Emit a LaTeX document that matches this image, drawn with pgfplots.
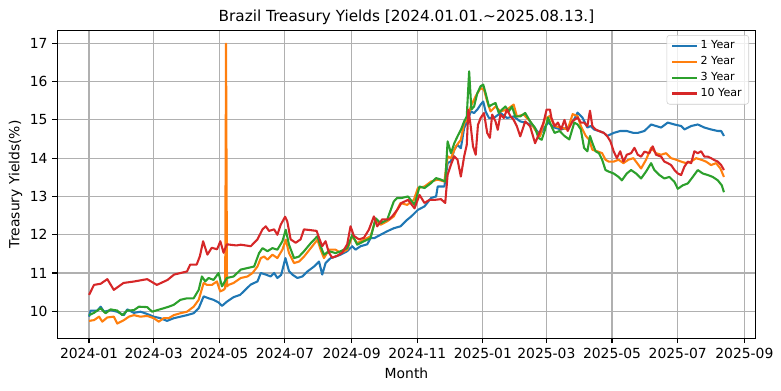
\documentclass[border=0pt]{standalone}
\usepackage{fontspec}
\setmainfont{DejaVu Sans}
\usepackage{pgfplots}
\pgfplotsset{compat=1.18}
\definecolor{c1}{HTML}{1F77B4}
\definecolor{c2}{HTML}{FF7F0E}
\definecolor{c3}{HTML}{2CA02C}
\definecolor{c4}{HTML}{D62728}
\definecolor{gridgray}{HTML}{B0B0B0}
\definecolor{legframe}{HTML}{CCCCCC}
\begin{document}
\begin{tikzpicture}
\begin{axis}[
  scale only axis, width=502.85pt, height=221.76pt,
  xmin=-29.5, xmax=619.5, ymin=9.295, ymax=17.34,
  xtick={0,60,121,182,244,305,366,425,486,547,609},
  xticklabels={2024-01,2024-03,2024-05,2024-07,2024-09,2024-11,2025-01,2025-03,2025-05,2025-07,2025-09},
  ytick={10,11,12,13,14,15,16,17},
  xtick pos=bottom, ytick pos=left,
  tick align=outside, major tick length=3.5pt,
  every tick/.style={black, line width=0.8pt},
  axis line style={line width=0.8pt},
  grid=major, major grid style={color=gridgray, line width=0.8pt},
  tick label style={font=\fontsize{10}{12}\selectfont},
  /pgf/number format/assume math mode=true,
  title={Brazil Treasury Yields [2024.01.01.\textasciitilde 2025.08.13.]},
  title style={font=\fontsize{11}{13}\selectfont, at={(axis description cs:0.5,1)}, anchor=base, yshift=0pt},
  xlabel={Month}, ylabel={Treasury Yields(\%)},
  label style={font=\fontsize{10}{12}\selectfont},
  xlabel style={at={(axis description cs:0.5,0)}, anchor=center, yshift=-25.2pt},
  ylabel style={at={(axis description cs:0,0.5)}, anchor=center, yshift=30.1pt},
  legend style={at={(axis description cs:0.9904,0.9847)}, anchor=north east,
    font=\fontsize{8}{9.6}\selectfont, draw=legframe, rounded corners=2pt, fill=white, fill opacity=0.8, text opacity=1,
    inner xsep=3pt, inner ysep=2pt, row sep=0pt},
  legend cell align=left,
  legend image code/.code={\draw[#1] (0pt,0pt) -- (17.8pt,0pt);},
  every axis plot/.append style={line width=1.5pt, line join=round},
]
\addplot[c1] coordinates {(0,9.86)(1.5,10.02)(7.7,10.02)(10.8,10.12)(13.9,9.99)(20,10.03)(26,9.99)(32.4,9.9)(35.5,10.05)(41.7,9.96)(47.8,9.99)(54,9.93)(60.2,9.86)(66.4,9.82)(72.5,9.75)(78.7,9.82)(84.9,9.86)(91,9.9)(97.2,9.95)(101.9,10.08)(106.5,10.39)(111.1,10.34)(115.7,10.3)(120.4,10.23)(123.5,10.14)(128,10.25)(134.3,10.37)(140.4,10.43)(146.6,10.6)(150.3,10.7)(156.5,10.78)(159.6,11.0)(164.2,10.96)(168.8,10.91)(172,11.0)(175,10.87)(178.5,10.95)(182.5,11.39)(185.8,11.05)(188.9,10.96)(193.6,10.87)(198.2,10.91)(202.9,11.04)(209.1,11.17)(213.7,11.3)(216.7,10.96)(219.8,11.26)(224.5,11.39)(229.1,11.43)(233.8,11.48)(239.9,11.57)(244.6,11.7)(247.6,11.61)(252.3,11.7)(258.5,11.75)(261.6,11.91)(265,11.91)(270.9,12.0)(277,12.09)(283.2,12.17)(289.4,12.22)(295.6,12.39)(299.5,12.48)(305.6,12.65)(311.7,12.74)(317.9,12.96)(322.5,13.0)(324,13.26)(330.2,13.26)(333.2,13.87)(336.3,13.92)(339.4,14.22)(342.4,14.35)(345.5,14.26)(348.6,14.79)(351.6,14.96)(354.7,15.22)(357.8,15.18)(360.8,15.27)(363.9,15.4)(366.3,15.48)(368.5,15.22)(371.6,15.05)(376.2,15.05)(382.3,15.18)(388.4,15.05)(394.6,15.09)(400.7,14.96)(406.8,14.92)(413,14.83)(419.1,14.61)(422,14.75)(426.5,14.93)(432.6,14.8)(438.7,14.75)(444.8,14.8)(450.9,15.02)(454,15.19)(458.5,15.06)(463.1,14.8)(466.2,14.84)(469.2,14.75)(473.8,14.71)(478.4,14.66)(481.4,14.58)(484.5,14.62)(487.5,14.66)(493.6,14.71)(499.7,14.71)(505.8,14.66)(509.9,14.66)(516.1,14.71)(522.3,14.88)(526.9,14.84)(531.6,14.8)(537.8,14.93)(544,14.88)(550.2,14.84)(553.3,14.75)(559.5,14.84)(565.7,14.88)(571.8,14.8)(578,14.75)(584.3,14.71)(587.4,14.71)(590,14.58)};
\addlegendentry{1 Year}
\addplot[c2] coordinates {(0,9.75)(4.6,9.77)(9.3,9.86)(12.3,9.73)(17,9.84)(23,9.86)(26.2,9.68)(32.4,9.77)(37,9.86)(41.7,9.9)(47.8,9.86)(54,9.88)(60.2,9.82)(64.8,9.73)(69.4,9.82)(74,9.82)(78.7,9.9)(84.9,9.95)(91,9.99)(97.2,10.12)(101.9,10.3)(106.5,10.74)(109.6,10.69)(114.2,10.69)(118.8,10.78)(121.9,10.52)(125,10.56)(126.5,10.6)(127.3,16.99)(128.2,10.65)(129.6,10.69)(134.3,10.74)(141,10.87)(147.2,10.91)(151.9,11.0)(156.5,11.17)(159.6,11.39)(162.7,11.43)(165.8,11.35)(170.4,11.48)(175,11.39)(179.7,11.61)(182.8,11.87)(185.8,11.52)(190.5,11.26)(195.1,11.3)(199.8,11.43)(206,11.65)(212.2,11.87)(215.2,11.61)(218.3,11.39)(223,11.61)(229.1,11.61)(233.8,11.52)(239.9,11.61)(244.6,11.96)(249.2,11.78)(255.4,11.87)(261.6,11.96)(266.3,12.39)(270.9,12.26)(277,12.35)(283.2,12.48)(289.4,12.83)(295.6,12.78)(301.8,12.91)(305.6,13.22)(311.7,13.26)(317.9,13.39)(324,13.44)(330.2,13.39)(333.2,14.05)(336.3,14.0)(340.9,14.31)(345.5,14.48)(348.6,14.92)(351.6,15.0)(354.7,15.35)(359.3,15.62)(363.9,15.83)(367,15.79)(370,15.48)(373.1,15.22)(377.7,15.35)(382.3,15.22)(388.4,15.27)(394.6,15.4)(397.6,15.09)(403.8,15.14)(409.9,14.96)(414.5,14.74)(419.1,14.57)(423.5,15.02)(428,15.1)(432.6,14.84)(438.7,14.8)(444.8,14.75)(449.4,15.15)(454,15.1)(457,14.84)(461.6,14.58)(464.6,14.49)(467.7,14.22)(472.3,14.18)(476.8,14.13)(479.9,13.96)(482.9,13.91)(487.5,13.91)(492.1,13.96)(496.6,13.87)(501.2,13.96)(505.8,14.0)(508.3,13.91)(513,13.73)(517.6,13.96)(522.3,14.27)(526.9,14.13)(531.6,14.09)(536.2,14.13)(540.9,14.0)(545.5,13.96)(550.2,13.91)(554.8,13.87)(559.5,13.91)(564.1,14.0)(568.8,13.96)(573.4,13.91)(578,13.82)(582.7,13.87)(586.7,13.73)(590,13.51)};
\addlegendentry{2 Year}
\addplot[c3] coordinates {(0,9.9)(4.6,9.96)(10.8,10.08)(15.4,9.95)(20,10.05)(26.2,10.02)(30.9,9.9)(35.5,10.02)(41.7,10.03)(46.3,10.12)(54,10.11)(58.6,9.99)(63.3,10.03)(69.4,10.08)(74,10.12)(78.7,10.17)(84.9,10.3)(91,10.34)(97.2,10.34)(101.9,10.56)(104.9,10.91)(108,10.78)(111.1,10.87)(115.7,10.82)(120.4,11.0)(123.5,10.65)(128,10.87)(134.3,10.91)(141,11.09)(147.2,11.13)(153.4,11.17)(158,11.52)(161.2,11.65)(165.8,11.57)(170.4,11.65)(175,11.61)(179.7,11.83)(182.8,12.13)(185.8,11.74)(190.5,11.39)(195.1,11.43)(199.8,11.57)(206,11.78)(212.2,11.96)(215.2,11.7)(218.3,11.48)(223,11.57)(229.1,11.52)(233.8,11.57)(239.9,11.65)(244.6,12.0)(249.2,11.74)(255.4,11.83)(261.6,11.91)(266.3,12.43)(270.9,12.3)(277,12.39)(283.2,12.87)(286.3,12.96)(290.3,12.96)(296.4,13.0)(302.5,12.78)(307.1,13.26)(311.7,13.22)(317.9,13.35)(322.5,13.48)(327,13.44)(331,13.39)(333.2,14.44)(336.3,14.13)(339.4,14.39)(342.4,14.57)(345.5,14.74)(348.6,14.96)(351,15.09)(353.2,16.27)(355.3,15.27)(357.8,15.35)(360.8,15.7)(363.9,15.88)(366.3,15.92)(368.5,15.7)(371.6,15.35)(374.6,15.4)(377.7,15.44)(380.8,15.18)(383.8,15.27)(386.9,15.35)(390,15.22)(393,15.35)(396.1,15.09)(400.7,15.09)(405.3,15.18)(409.9,14.96)(414.5,14.79)(417.6,14.53)(420.6,14.48)(423.7,14.74)(426.5,15.06)(429.6,14.84)(432.6,14.66)(437.2,14.71)(441.8,14.58)(446.3,14.49)(450.9,14.93)(454,14.88)(457,14.75)(460,14.27)(463.1,14.18)(465.5,14.58)(467.7,14.4)(470.7,14.18)(473.8,14.13)(476.8,13.96)(479.9,13.69)(482.9,13.65)(487.5,13.6)(492.1,13.51)(495.1,13.42)(499.7,13.6)(503.7,13.69)(508.3,13.6)(513,13.47)(517.6,13.65)(522.3,13.87)(525.3,13.69)(530,13.56)(534.6,13.47)(539.3,13.51)(544,13.38)(547.1,13.2)(551.7,13.29)(556.4,13.34)(561,13.51)(565.7,13.69)(570.3,13.6)(575,13.56)(579.6,13.51)(584.3,13.42)(588,13.29)(590,13.11)};
\addlegendentry{3 Year}
\addplot[c4] coordinates {(0,10.43)(4.6,10.69)(10.8,10.72)(17,10.84)(23,10.56)(32,10.74)(42,10.78)(54,10.84)(63,10.69)(73,10.82)(79,10.96)(91,11.04)(94,11.22)(100,11.22)(103,11.44)(106,11.83)(110,11.48)(114,11.66)(119,11.62)(122,11.83)(125,11.53)(128,11.75)(137,11.72)(141,11.74)(150.3,11.7)(156.5,11.88)(161.2,12.14)(164.2,12.22)(167.3,12.1)(172,12.14)(175,12.0)(178.1,12.26)(182.2,12.47)(184.2,12.35)(187.3,11.88)(192,11.79)(196.6,11.88)(199.7,12.14)(205.9,12.12)(211.5,12.1)(213.7,11.92)(216.7,11.7)(219.8,11.83)(222.9,11.53)(226,11.4)(230.6,11.45)(235.3,11.53)(239.9,11.75)(243,12.22)(246.1,11.97)(250.8,11.88)(255.4,11.92)(260,12.13)(264.7,12.48)(267.8,12.22)(272.4,12.4)(278.6,12.4)(281.7,12.48)(286.4,12.65)(290.3,12.83)(296.4,12.91)(302.5,12.69)(307.1,13.04)(311.7,12.83)(316.3,12.91)(321,12.91)(327,12.93)(331,12.83)(333.2,13.57)(336.3,13.83)(339.4,14.05)(342.4,13.96)(345.5,13.52)(348.6,14.05)(351,14.35)(352.5,15.27)(354.7,14.83)(356.8,14.31)(359.3,14.09)(361.4,14.87)(363.9,15.05)(367,15.18)(370,14.66)(372.5,14.53)(374.6,15.14)(377.7,14.96)(379.8,14.74)(382.3,15.14)(385.4,15.05)(388.4,15.27)(391.5,15.1)(394.6,15.0)(397.6,14.83)(400.7,14.57)(405.3,14.96)(409.9,14.83)(414.5,14.39)(419.1,14.7)(422.2,14.92)(425.2,15.27)(428.3,15.27)(429.6,15.06)(432.6,14.84)(435.7,14.93)(438.7,14.75)(441.8,15.0)(444.8,14.71)(449.4,14.97)(454,15.06)(457,14.93)(460,14.93)(463.1,14.84)(465.5,15.24)(467.7,14.84)(470.7,14.75)(473.8,14.71)(478.4,14.66)(481.4,14.58)(484.5,14.44)(487.5,14.18)(490.5,14.0)(493.6,14.18)(496.6,13.91)(499.7,14.09)(503.7,14.13)(506.8,14.27)(509.9,14.09)(513,14.04)(516.1,14.17)(520.7,14.13)(523.8,14.31)(526.9,14.09)(531.6,14.04)(534.6,13.91)(537.8,13.87)(540.9,13.82)(544,13.69)(547.1,13.6)(550.2,13.56)(553.3,13.78)(556.4,13.91)(559.5,13.87)(562.5,14.18)(565.7,14.13)(568.8,14.18)(571.8,14.04)(575,14.04)(578,14.0)(581.1,13.95)(584.3,13.91)(587.4,13.82)(590,13.69)};
\addlegendentry{10 Year}
\coordinate (SW) at (rel axis cs:0,0);
\coordinate (NE) at (rel axis cs:1,1);
\end{axis}
\pgfresetboundingbox
\path[use as bounding box] ([xshift=-41.26pt,yshift=-37.94pt]SW) rectangle ([xshift=18.22pt,yshift=21.82pt]NE);
\end{tikzpicture}
\end{document}
